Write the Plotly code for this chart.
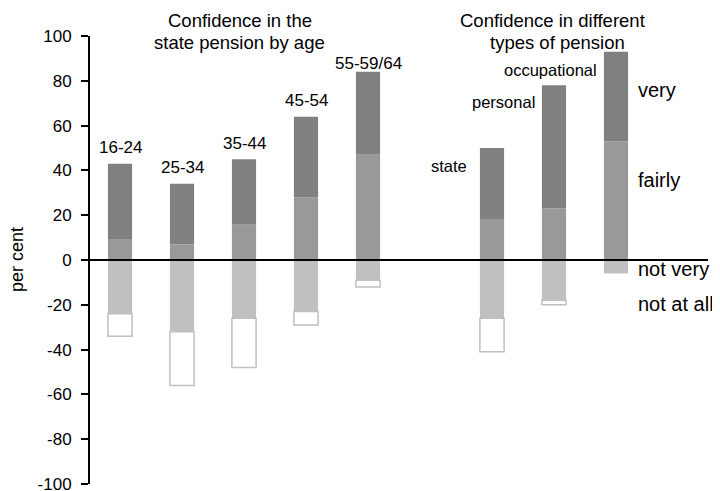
import plotly.graph_objects as go

categories = ["16-24", "25-34", "35-44", "45-54", "55-59/64", " ", "state", "personal", "occupational"]
very = [34, 27, 29, 36, 37, None, 32, 55, 40]
fairly = [9, 7, 16, 28, 47, None, 18, 23, 53]
not_very = [24, 32, 26, 23, 9, None, 26, 18, 6]
not_at_all = [10, 24, 22, 6, 3, None, 15, 2, None]

age_labels = ["16-24", "25-34", "35-44", "45-54", "55-59/64"]
type_labels = ["state", "personal", "occupational"]
series_labels = ["very", "fairly", "not very", "not at all"]
title_left = ["Confidence in the", "state pension by age"]
title_right = ["Confidence in different", "types of pension"]
y_ticks = list(range(-100, 101, 20))
y_tick_text = [str(v) for v in y_ticks]

FONT = "Liberation Sans, Arial, sans-serif"

def neg(v):
    return [None if x is None else -x for x in v]

fig = go.Figure()
fig.add_trace(go.Bar(x=categories, y=fairly, marker=dict(color="#999999", line=dict(width=0)), name="fairly"))
fig.add_trace(go.Bar(x=categories, y=very, marker=dict(color="#808080", line=dict(width=0)), name="very"))
fig.add_trace(go.Bar(x=categories, y=neg(not_very), marker=dict(color="#c0c0c0", line=dict(width=0)), name="not very"))
fig.add_trace(go.Bar(x=categories, y=neg(not_at_all), marker=dict(color="white", line=dict(color="#c0c0c0", width=1.5)), name="not at all"))

ann = []
# age labels above bars
shifts = [16, 16, 16, 16, 8]
for i, lab in enumerate(age_labels):
    top = very[i] + fairly[i]
    ann.append(dict(x=i, y=top, text=lab, showarrow=False, yanchor="middle", yshift=shifts[i],
                    font=dict(size=17, family=FONT, color="black")))
# type labels
type_pos = [(5.31, 42), (6.18, 70.5), (6.94, 84.8)]
for lab, (xx, yy) in zip(type_labels, type_pos):
    ann.append(dict(x=xx, y=yy, text=lab, showarrow=False, font=dict(size=16.5, family=FONT, color="black")))
# series labels at right
series_y = [76, 35.7, -4, -19.6]
for lab, yy in zip(series_labels, series_y):
    ann.append(dict(x=8.325, y=yy, text=lab, showarrow=False, xanchor="left",
                    font=dict(size=20, family=FONT, color="black")))
# titles (paper y)
for lab, xx, yy in zip(title_left, [1.935, 1.935], [1.0357, 0.9866]):
    ann.append(dict(x=xx, y=yy, yref="paper", text=lab, showarrow=False, yanchor="middle",
                    font=dict(size=18.5, family=FONT, color="black")))
for lab, xx, yy in zip(title_right, [6.97, 7.05], [1.0357, 0.9866]):
    ann.append(dict(x=xx, y=yy, yref="paper", text=lab, showarrow=False, yanchor="middle",
                    font=dict(size=18.5, family=FONT, color="black")))
# y-axis title
ann.append(dict(xref="paper", x=(9 - 82) / 618, y=0, text="per cent", showarrow=False, textangle=-90,
                xanchor="center", yanchor="middle",
                font=dict(size=18, family=FONT, color="black")))

fig.update_layout(
    width=740, height=500,
    margin=dict(l=82, r=40, t=28, b=24),
    barmode="relative", bargap=0.61,
    plot_bgcolor="white", paper_bgcolor="white",
    showlegend=False,
    annotations=ann,
    shapes=[dict(type="line", xref="paper", x0=0, x1=1, yref="y", y0=0, y1=0,
                 line=dict(color="black", width=2), layer="above")],
    font=dict(family=FONT, color="black"),
)
fig.update_xaxes(type="category", range=[-0.484, 9.484], visible=False, showgrid=False, zeroline=False)
fig.update_yaxes(range=[-100, 100], tickvals=y_ticks, ticktext=y_tick_text, showgrid=False, zeroline=False,
                 showline=True, linecolor="black", linewidth=2,
                 ticks="outside", ticklen=7, tickwidth=2, tickcolor="black",
                 ticklabelstandoff=6, ticklabeloverflow="allow",
                 tickfont=dict(size=17, family=FONT, color="black"), automargin=False)

fig.write_html("out.html")
